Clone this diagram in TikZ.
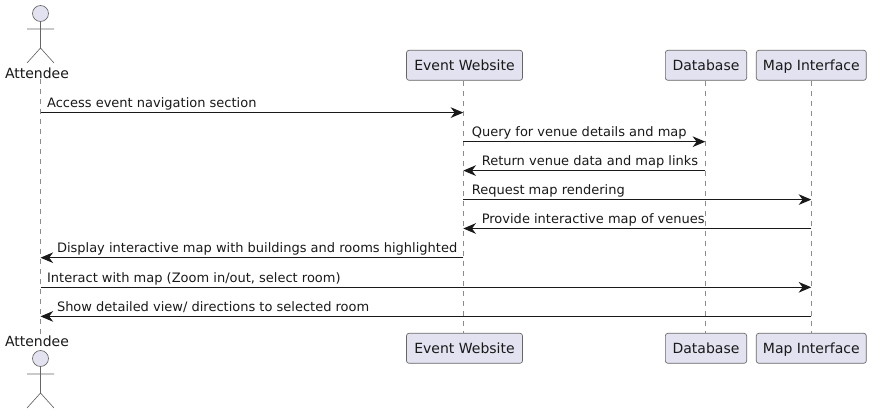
\documentclass[tikz,border=0pt]{standalone}
\usepackage{fontspec}
\setmainfont{DejaVu Sans}
\usetikzlibrary{arrows.meta,positioning}

\begin{document}
\begin{tikzpicture}[
  x=0.75pt, y=-0.75pt,
  font=\fontsize{9.75pt}{11.7pt}\selectfont,
  part/.style={draw=black!60, rounded corners=1.9pt, fill=partfill, align=center, minimum height=22.5pt, inner sep=0pt, text=black!90, line width=0.5pt, font=\fontsize{10.5pt}{12pt}\selectfont, text height=7.6pt, text depth=0pt},
  head/.style={draw=black!60, fill=partfill, line width=0.5pt},
  limb/.style={draw=black!60, line width=0.5pt},
  who/.style={inner sep=0pt, text=black!90, font=\fontsize{10.5pt}{12pt}\selectfont},
  life/.style={draw=black!45, line width=0.5pt, dash pattern=on 3.75pt off 3.75pt},
  msg/.style={-{Stealth[length=9.5pt, width=8pt, inset=3pt]}, draw=black!90, line width=0.75pt},
  lblr/.style={pos=0, anchor=base west, inner sep=0pt, xshift=#1, yshift=3.9pt, text=black!90},
  lbll/.style={pos=1, anchor=base west, inner sep=0pt, xshift=#1, yshift=3.9pt, text=black!90},
]
\definecolor{partfill}{HTML}{E2E2F0}
\useasboundingbox (0,0) rectangle (871,414);
% lifeline columns and message rows
\coordinate (attx) at (40.5,0);
\coordinate (evtx) at (463.3,0);
\coordinate (dbx)  at (705.3,0);
\coordinate (mapx) at (811.3,0);
\coordinate (r1) at (0,112.6);
\coordinate (r2) at (0,141.7);
\coordinate (r3) at (0,170.6);
\coordinate (r4) at (0,199.6);
\coordinate (r5) at (0,228.5);
\coordinate (r6) at (0,257.7);
\coordinate (r7) at (0,287.3);
\coordinate (r8) at (0,316.4);
% top row
\node[who] (att)  at (37,73) {Attendee};
\node[part, minimum width=87pt]   (evt) at (464.5,65.3) {Event Website};
\node[part, minimum width=61pt]   (db)  at (706,65.3)   {Database};
\node[part, minimum width=82.5pt] (map) at (811.3,65.3) {Map Interface};
% bottom row
\node[who] (attb) at (37,341) {Attendee};
\node[part, minimum width=87pt]   (evtb) at (464.5,348.3) {Event Website};
\node[part, minimum width=61pt]   (dbb)  at (706,348.3)   {Database};
\node[part, minimum width=82.5pt] (mapb) at (811.3,348.3) {Map Interface};
% lifelines
\draw[life] (att.south -| attx) -- (attb.north -| attx);
\draw[life] (evt.south -| evtx) -- (evtb.north -| evtx);
\draw[life] (db.south -| dbx)   -- (dbb.north -| dbx);
\draw[life] (map.south -| mapx) -- (mapb.north -| mapx);
% stick figures
\node[circle, head, minimum size=12pt, inner sep=0pt] (hd)  at (40.5,13.5) {};
\node[circle, head, minimum size=12pt, inner sep=0pt] (hdb) at (40.5,358.5) {};
\draw[limb] (hd.south) -- (40.5,48) -- (27,63) (40.5,48) -- (54,63) (27,29) -- (54,29);
\draw[limb] (hdb.south) -- (40.5,393) -- (27,408) (40.5,393) -- (54,408) (27,374) -- (54,374);
% messages
\draw[msg] (attx |- r1) -- (evtx |- r1) node[lblr=4.6pt]{Access event navigation section};
\draw[msg] (evtx |- r2) -- (dbx |- r2)  node[lblr=6pt]{Query for venue details and map};
\draw[msg] (dbx |- r3)  -- (evtx |- r3) node[lbll=13.5pt]{Return venue data and map links};
\draw[msg] (evtx |- r4) -- (mapx |- r4) node[lblr=6pt]{Request map rendering};
\draw[msg] (mapx |- r5) -- (evtx |- r5) node[lbll=13.5pt]{Provide interactive map of venues};
\draw[msg] (evtx |- r6) -- (attx |- r6) node[lbll=12pt]{Display interactive map with buildings and rooms highlighted};
\draw[msg] (attx |- r7) -- (mapx |- r7) node[lblr=4.6pt]{Interact with map (Zoom in/out, select room)};
\draw[msg] (mapx |- r8) -- (attx |- r8) node[lbll=12pt]{Show detailed view/ directions to selected room};
\end{tikzpicture}
\end{document}
